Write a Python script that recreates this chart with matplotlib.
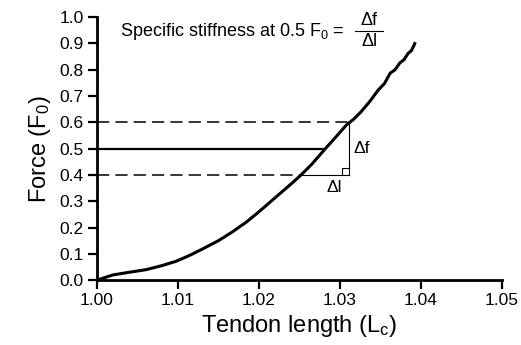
import matplotlib
matplotlib.use("Agg")
import matplotlib.pyplot as plt
from matplotlib.lines import Line2D

plt.rcParams['font.family'] = ['Liberation Sans', 'DejaVu Sans']
plt.rcParams['mathtext.fontset'] = 'custom'
plt.rcParams['mathtext.rm'] = 'Liberation Sans'
plt.rcParams['mathtext.it'] = 'Liberation Sans'

# curve data (tendon length, force)
length = [1.000, 1.0010, 1.0020, 1.0040, 1.0061, 1.0080, 1.0098, 1.0115, 1.0130,
          1.0150, 1.0167, 1.0185, 1.0200, 1.0215, 1.0230, 1.0242, 1.0252, 1.0265,
          1.0282, 1.0296, 1.0308, 1.0317, 1.0326, 1.0337, 1.0347, 1.0355, 1.0362,
          1.0368, 1.0374, 1.0379, 1.0384, 1.0388, 1.0391, 1.0393]
force = [0.000, 0.010, 0.020, 0.030, 0.040, 0.055, 0.072, 0.095, 0.118,
         0.150, 0.183, 0.222, 0.260, 0.300, 0.340, 0.372, 0.400, 0.440,
         0.500, 0.548, 0.590, 0.612, 0.640, 0.680, 0.722, 0.748, 0.787,
         0.800, 0.826, 0.838, 0.862, 0.872, 0.890, 0.905]

ref_force = [0.4, 0.5, 0.6]
ref_length = [1.0251, 1.0282, 1.0311]

xticks = [1.00, 1.01, 1.02, 1.03, 1.04, 1.05]
yticks = [0.0, 0.1, 0.2, 0.3, 0.4, 0.5, 0.6, 0.7, 0.8, 0.9, 1.0]

fig = plt.figure(figsize=(5.21, 3.45), dpi=100)
ax = fig.add_axes([0.186, 0.188, 0.7775, 0.7623])

ax.plot(length, force, color='black', lw=2.2, solid_capstyle='butt', solid_joinstyle='round')

# reference lines
ax.plot([1.00, ref_length[2]], [ref_force[2]] * 2, color='black', lw=1.1, ls=(0, (8, 4)))
ax.plot([1.00, ref_length[0]], [ref_force[0]] * 2, color='black', lw=1.1, ls=(0, (8, 4)))
ax.plot([1.00, ref_length[1]], [ref_force[1]] * 2, color='black', lw=1.6)
ax.plot([ref_length[0], ref_length[2]], [ref_force[0]] * 2, color='black', lw=0.8)
ax.plot([ref_length[2], ref_length[2]], [ref_force[0], ref_force[2]], color='black', lw=0.8)
# right-angle marker
sq_w = 0.0009
sq_h = 0.025
ax.plot([ref_length[2] - sq_w, ref_length[2] - sq_w, ref_length[2]],
        [ref_force[0], ref_force[0] + sq_h, ref_force[0] + sq_h], color='black', lw=0.8)

ax.text(ref_length[2] + 0.0006, 0.5, 'Δf', fontsize=12.5, va='center', ha='left')
ax.text(ref_length[2] - 0.0009, 0.352, 'Δl', fontsize=12.5, va='center', ha='right')

# top formula
ax.text(0.057, 0.928, 'Specific stiffness at 0.5 F$_0$ =', transform=ax.transAxes,
        fontsize=13, ha='left', va='baseline')
ax.text(0.672, 0.955, 'Δf', transform=ax.transAxes, fontsize=13, ha='center', va='bottom')
ax.text(0.672, 0.938, 'Δl', transform=ax.transAxes, fontsize=13, ha='center', va='top')
ax.add_line(Line2D([0.637, 0.706], [0.947, 0.947], transform=ax.transAxes, color='black', lw=0.8))

ax.set_xlim(1.00, 1.05)
ax.set_ylim(0.0, 1.0)
ax.set_xticks(xticks)
ax.set_xticklabels([f'{v:.2f}' for v in xticks])
ax.set_yticks(yticks)
ax.set_yticklabels([f'{v:.1f}' for v in yticks])
ax.tick_params(direction='out', length=6.5, width=1.6, labelsize=12.5, pad=3)

for s in ['top', 'right']:
    ax.spines[s].set_visible(False)
for s in ['left', 'bottom']:
    ax.spines[s].set_linewidth(2.0)

ax.set_xlabel('Tendon length (L$_\\mathrm{c}$)', fontsize=17, labelpad=3)
ax.set_ylabel('Force (F$_0$)', fontsize=17, labelpad=5)

fig.savefig('out.png', dpi=100)
